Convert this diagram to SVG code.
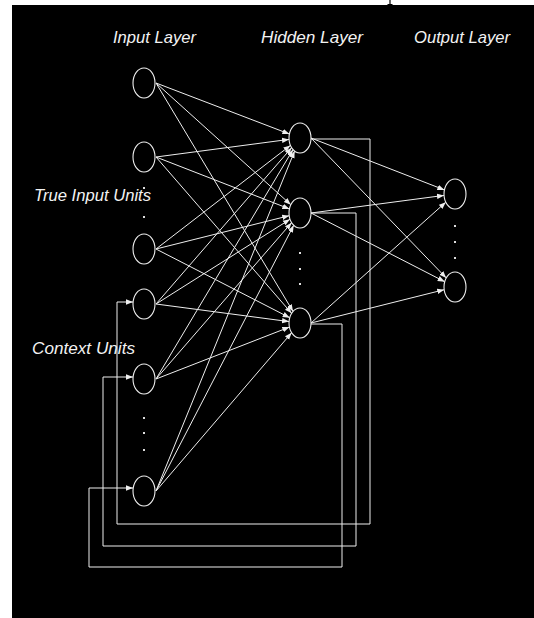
<svg xmlns="http://www.w3.org/2000/svg" width="534" height="618" viewBox="0 0 534 618">
<style>
.n{fill:#000;stroke:#eee;stroke-width:1.1}
.c{stroke:#eee;stroke-width:1;fill:none}
.t{font-family:"Liberation Sans",Arial,sans-serif;font-style:italic;font-size:17px;fill:#f2f2f2}
.d{fill:#ddd}
</style>
<defs>
<marker id="a" markerUnits="userSpaceOnUse" markerWidth="8" markerHeight="7" refX="7" refY="3" orient="auto">
<path d="M0,0.3 L7,3 L0,5.7 Z" fill="#eee"/>
</marker>
</defs>
<rect x="0" y="0" width="534" height="618" fill="#fff"/>
<rect x="12" y="5" width="522" height="613" fill="#000"/>
<path d="M390,0 V5 M387.5,4.5 H392.5" stroke="#000" stroke-width="1.2"/>

<g id="labels">
<text class="t" x="113" y="43" textLength="83" lengthAdjust="spacingAndGlyphs">Input  Layer</text>
<text class="t" x="261" y="43" textLength="102" lengthAdjust="spacingAndGlyphs">Hidden  Layer</text>
<text class="t" x="414" y="43" textLength="96" lengthAdjust="spacingAndGlyphs">Output  Layer</text>
<text class="t" x="34" y="201" textLength="117" lengthAdjust="spacingAndGlyphs">True Input Units</text>
<text class="t" x="32" y="354" textLength="103" lengthAdjust="spacingAndGlyphs">Context  Units</text>
</g>

<g id="connectors" class="c" marker-end="url(#a)">
<path d="M156,83 L289.4,134"/>
<path d="M156,83 L290.8,204.7"/>
<path d="M156,83 L293,311.4"/>
<path d="M156,157 L289,139.4"/>
<path d="M156,157 L289.4,208.9"/>
<path d="M156,157 L291.6,313.3"/>
<path d="M156,249 L290.4,145.4"/>
<path d="M156,249 L289.2,215.7"/>
<path d="M156,249 L289.7,317.7"/>
<path d="M156,304 L291.6,147.7"/>
<path d="M156,304 L290,219.3"/>
<path d="M156,304 L289,321.6"/>
<path d="M156,379 L293,149.6"/>
<path d="M156,379 L291.6,222.7"/>
<path d="M156,379 L289.4,327.1"/>
<path d="M156,491 L294.6,151.1"/>
<path d="M156,491 L293.7,225.3"/>
<path d="M156,491 L291.6,332.8"/>
<path d="M311,138 L444.4,189.9"/>
<path d="M311,138 L446.2,277.9"/>
<path d="M311,213 L444,195.4"/>
<path d="M311,213 L444.7,281.7"/>
<path d="M311,323 L445.8,202.2"/>
<path d="M311,323 L444.2,289.7"/>
<path d="M311,139 H370 V524 H117 V302 H133"/>
<path d="M311,213 H356 V546 H103 V377 H133"/>
<path d="M311,324 H342 V567 H89 V488 H133"/>
</g>

<g id="input1"><ellipse class="n" cx="144" cy="83" rx="11" ry="15"/></g>
<g id="input2"><ellipse class="n" cx="144" cy="157" rx="11" ry="15"/></g>
<g id="input3"><ellipse class="n" cx="144" cy="249" rx="11" ry="15"/></g>
<g id="context1"><ellipse class="n" cx="144" cy="304" rx="11" ry="15"/></g>
<g id="context2"><ellipse class="n" cx="144" cy="379" rx="11" ry="15"/></g>
<g id="context3"><ellipse class="n" cx="144" cy="491" rx="11" ry="15"/></g>
<g id="hidden1"><ellipse class="n" cx="300" cy="138" rx="11" ry="15"/></g>
<g id="hidden2"><ellipse class="n" cx="300" cy="213" rx="11" ry="15"/></g>
<g id="hidden3"><ellipse class="n" cx="300" cy="323" rx="11" ry="15"/></g>
<g id="output1"><ellipse class="n" cx="455" cy="194" rx="11" ry="15"/></g>
<g id="output2"><ellipse class="n" cx="455" cy="287" rx="11" ry="15"/></g>

<g id="dots" class="d">
<rect x="143" y="187" width="2" height="2"/>
<rect x="143" y="216" width="2" height="2"/>
<rect x="143" y="417" width="2" height="2"/>
<rect x="143" y="432" width="2" height="2"/>
<rect x="143" y="449" width="2" height="2"/>
<rect x="299" y="252" width="2" height="2"/>
<rect x="299" y="268" width="2" height="2"/>
<rect x="299" y="283" width="2" height="2"/>
<rect x="454" y="225" width="2" height="2"/>
<rect x="454" y="241" width="2" height="2"/>
<rect x="454" y="257" width="2" height="2"/>
</g>
</svg>
